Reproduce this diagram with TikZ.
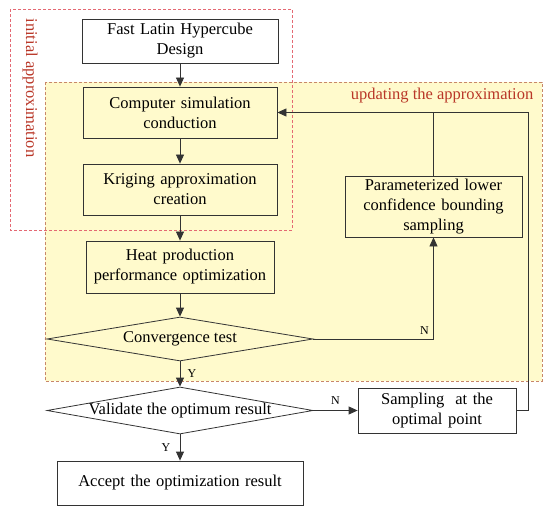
\documentclass[tikz,border=0pt]{standalone}
\usepackage{fontspec}
\setmainfont{Liberation Serif}
\usetikzlibrary{arrows.meta,shapes.geometric}

\definecolor{regfill}{RGB}{255,250,204}
\definecolor{regline}{RGB}{200,135,105}
\definecolor{initline}{RGB}{228,105,115}
\definecolor{labred}{RGB}{185,55,40}

\begin{document}
\begin{tikzpicture}[x=1pt, y=-1pt, >={Triangle[length=9pt,width=8pt]},
    line width=0.8pt,
    every node/.style={font=\fontsize{16.5}{20}\selectfont},
    stepbox/.style={draw=black!80, rectangle, align=center, inner xsep=2pt, inner ysep=0pt},
    decision/.style={draw=black!80, diamond, aspect=6, inner sep=0pt},
    flow/.style={draw=black!80, ->},
    yn/.style={font=\fontsize{12}{14}\selectfont}]
                \useasboundingbox (0,0) rectangle (550,511);

                % Vùng cập nhật (nền vàng)
                \fill[regfill] (45,82) rectangle (542,381);
                \draw[regline, dash pattern=on 3pt off 2pt] (45,82) rectangle (542,381);
                % Vùng xấp xỉ ban đầu
                \draw[initline, dash pattern=on 3pt off 2pt] (10,9) rectangle (292,230);

                \node[rotate=-90, text=labred] (initlab) at (30,88) {initial approximation};
                \node[text=labred, anchor=east] (updlab) at (537,96) {updating the approximation};

                % Các bước chính
                \node[stepbox, text width=192pt, minimum height=44pt] (lhd) at (180,41) {Fast Latin Hypercube\\Design};
                \node[stepbox, text width=190pt, minimum height=51pt] (sim) at (180,112.5) {Computer simulation\\conduction};
                \node[stepbox, text width=190pt, minimum height=51pt] (krig) at (180,189.5) {Kriging approximation\\creation};
                \node[stepbox, text width=184pt, minimum height=52pt] (heat) at (180,267) {Heat production\\performance optimization};

                \node[decision, minimum width=266pt, minimum height=44pt] (conv) at (180,339) {};
                \node (convtxt) at (conv) {Convergence test};
                \node[decision, minimum width=266pt, minimum height=47pt] (valid) at (180,410.5) {};
                \node (validtxt) at (valid) {Validate the optimum result};

                \node[stepbox, text width=242pt, minimum height=44pt] (accept) at (180,483) {Accept the optimization result};

                % Nhánh bên phải
                \node[stepbox, text width=173pt, minimum height=61pt] (plcb) at (433.5,206.5) {Parameterized lower\\confidence bounding\\sampling};
                \node[stepbox, text width=154pt, minimum height=45pt] (samp) at (437,410.5) {Sampling\ \ at the\\optimal point};
                \coordinate (rt) at (528,112.5);

                % Mũi tên
                \draw[flow] (lhd) -- (sim);
                \draw[flow] (sim) -- (krig);
                \draw[flow] (krig) -- (heat);
                \draw[flow] (heat) -- (conv);
                \draw[flow] (conv) -- (valid) node[yn, midway, right=4pt] (y1) {Y};
                \draw[flow] (valid) -- (accept) node[yn, midway, left=6pt] (y2) {Y};
                \draw[flow] (conv.east) -| (plcb.south) node[yn, pos=0.5, above left=1pt] (n1) {N};
                \draw[flow] (plcb.north) |- (sim.east);
                \draw[flow] (valid.east) -- (samp.west) node[yn, midway, above=2pt] (n2) {N};
                \draw[draw=black!80] (samp.east) -| (rt) -- (plcb.north |- rt);
            \end{tikzpicture}
\end{document}
